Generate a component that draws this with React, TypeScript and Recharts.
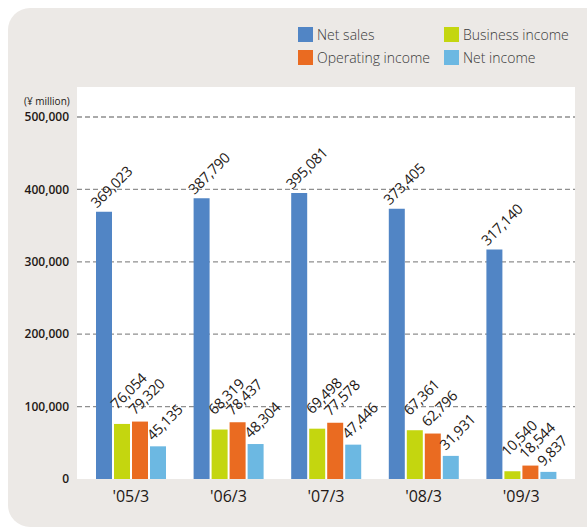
import React from "react"
import { BarChart, Bar, XAxis, YAxis, CartesianGrid, LabelList } from "recharts"

// values (¥ million)
const categories = ["'05/3", "'06/3", "'07/3", "'08/3", "'09/3"]
const netSales = [369023, 387790, 395081, 373405, 317140]
const businessIncome = [76054, 68319, 69498, 67361, 10540]
const operatingIncome = [79320, 78437, 77578, 62796, 18544]
const netIncome = [45135, 48304, 47446, 31931, 9837]
const yTicks = [0, 100000, 200000, 300000, 400000, 500000]

// labelDx / labelDy: where the rotated value label starts relative to the bar's top-left
const series = [
  { key: "netSales", name: "Net sales", color: "#5185C5", labelDx: 1, labelDy: -3 },
  { key: "businessIncome", name: "Business income", color: "#C4D60F", labelDx: 3, labelDy: -14 },
  { key: "operatingIncome", name: "Operating income", color: "#EA6B21", labelDx: 3, labelDy: -6 },
  { key: "netIncome", name: "Net income", color: "#6CB8E2", labelDx: 3, labelDy: -5 },
]

const data = categories.map((c, i) => ({
  category: c,
  netSales: netSales[i],
  businessIncome: businessIncome[i],
  operatingIncome: operatingIncome[i],
  netIncome: netIncome[i],
}))

const FONT = "'Open Sans', 'Noto Sans', sans-serif"
const TEXT = "#231815"

const makeLabel = (dx: number, dy: number) => (props: any) => {
  const { x, y, value } = props
  const x0 = Number(x) + dx
  const y0 = Number(y) + dy
  return (
    <text
      x={x0}
      y={y0}
      transform={`rotate(-45 ${x0} ${y0})`}
      fontSize={14.5}
      letterSpacing={-0.3}
      fontFamily={FONT}
      fill={TEXT}
    >
      {Number(value).toLocaleString("en-US")}
    </text>
  )
}

const LegendItem = ({ color, name, left, top }: { color: string; name: string; left: number; top: number }) => (
  <div style={{ position: "absolute", left, top, display: "flex", alignItems: "center" }}>
    <div style={{ width: 15, height: 15, background: color, marginRight: 4 }} />
    <span style={{ fontSize: 14, color: "#3a3a3a", fontFamily: FONT, fontWeight: 300, lineHeight: "15px" }}>{name}</span>
  </div>
)

export default function App() {
  return (
    <div style={{ position: "absolute", left: 0, top: 0, width: 587, height: 530, overflow: "hidden", background: "#fff" }}>
      {/* beige panel */}
      <div
        style={{
          position: "absolute",
          left: 8,
          top: 8,
          width: 600,
          height: 519,
          background: "#ECE9E6",
          borderRadius: 22,
        }}
      />
      {/* white plot background */}
      <div style={{ position: "absolute", left: 77, top: 87, width: 498, height: 392, background: "#fff" }} />

      <LegendItem color={series[0].color} name={series[0].name} left={298} top={27} />
      <LegendItem color={series[1].color} name={series[1].name} left={444} top={27} />
      <LegendItem color={series[2].color} name={series[2].name} left={298} top={50} />
      <LegendItem color={series[3].color} name={series[3].name} left={444} top={50} />

      <div style={{ position: "absolute", left: 24, top: 94, fontSize: 10, color: TEXT, fontFamily: FONT }}>(¥ million)</div>

      <div style={{ position: "absolute", left: 0, top: 0 }}>
        <BarChart
          width={587}
          height={530}
          data={data}
          margin={{ top: 117, right: 12, bottom: 21, left: 0 }}
          barSize={16}
          barGap={2}
        >
          <CartesianGrid
            vertical={false}
            horizontalValues={[100000, 200000, 300000, 400000, 500000]}
            stroke="#8f8f8f"
            strokeWidth={1.3}
            strokeDasharray="5 3"
          />
          <XAxis
            dataKey="category"
            axisLine={false}
            tickLine={false}
            padding={{ left: 5, right: 5 }}
            height={30}
            tickMargin={6}
            tick={{ fontSize: 16, fill: TEXT, fontFamily: FONT }}
          />
          <YAxis
            width={77}
            domain={[0, 500000]}
            ticks={yTicks}
            axisLine={false}
            tickLine={false}
            tickFormatter={(v) => Number(v).toLocaleString("en-US")}
            tick={{ fontSize: 12, fill: TEXT, fontFamily: FONT, fontWeight: 600 }}
          />
          {series.map((s) => (
            <Bar key={s.key} dataKey={s.key} name={s.name} fill={s.color} isAnimationActive={false}>
              <LabelList dataKey={s.key} content={makeLabel(s.labelDx, s.labelDy)} />
            </Bar>
          ))}
        </BarChart>
      </div>
    </div>
  )
}
